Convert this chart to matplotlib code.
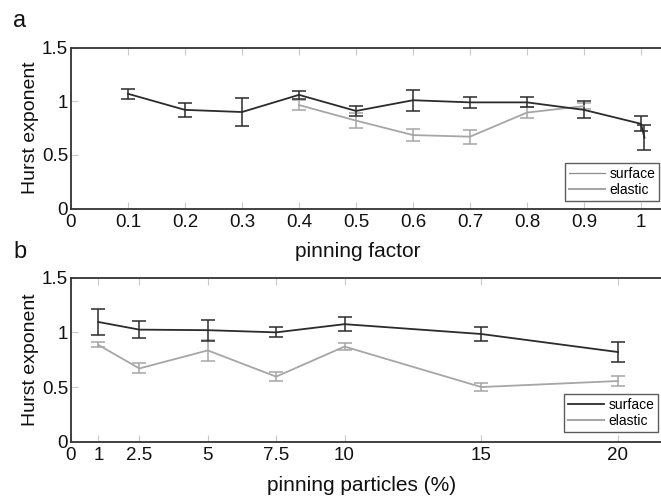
import matplotlib
matplotlib.use("Agg")
import matplotlib.pyplot as plt
from matplotlib.lines import Line2D

plt.rcParams['font.family'] = ['Liberation Sans', 'DejaVu Sans']

# Panel a: Hurst exponent vs pinning factor
pf_surface_x = [0.1, 0.2, 0.3, 0.4, 0.5, 0.6, 0.7, 0.8, 0.9, 1.0, 1.006]
pf_surface_y = [1.07, 0.92, 0.90, 1.06, 0.91, 1.01, 0.99, 0.99, 0.92, 0.79, 0.66]
pf_surface_err = [0.045, 0.065, 0.13, 0.035, 0.047, 0.10, 0.05, 0.047, 0.08, 0.07, 0.115]

pf_elastic_x = [0.4, 0.5, 0.6, 0.7, 0.8, 0.9]
pf_elastic_y = [0.965, 0.82, 0.685, 0.67, 0.895, 0.955]
pf_elastic_err = [0.05, 0.073, 0.058, 0.064, 0.05, 0.03]

pf_ticks = [0, 0.1, 0.2, 0.3, 0.4, 0.5, 0.6, 0.7, 0.8, 0.9, 1]
pf_ticklabels = ['0', '0.1', '0.2', '0.3', '0.4', '0.5', '0.6', '0.7', '0.8', '0.9', '1']

# Panel b: Hurst exponent vs pinning particle fraction
pp_x = [1, 2.5, 5, 7.5, 10, 15, 20]
pp_surface_y = [1.095, 1.025, 1.02, 1.0, 1.075, 0.985, 0.82]
pp_surface_err = [0.115, 0.075, 0.095, 0.045, 0.067, 0.065, 0.09]
pp_elastic_y = [0.885, 0.67, 0.835, 0.595, 0.87, 0.50, 0.555]
pp_elastic_err = [0.023, 0.046, 0.095, 0.042, 0.03, 0.037, 0.042]

pp_ticks = [0, 1, 2.5, 5, 7.5, 10, 15, 20]
pp_ticklabels = ['0', '1', '2.5', '5', '7.5', '10', '15', '20']

y_ticks = [0, 0.5, 1, 1.5]
y_ticklabels = ['0', '0.5', '1', '1.5']

DARK = '#2b2b2b'
LIGHT = '#a6a6a6'
TICK = '#c8c8c8'
TEXT = '#111111'

W, H = 661, 499
fig = plt.figure(figsize=(W / 100, H / 100), dpi=100)

LEFT_PX = 71
RIGHT_PX = 672
AX_W = RIGHT_PX - LEFT_PX


def make_axes(top_px, bottom_px, unit_px):
    ax = fig.add_axes([LEFT_PX / W, 1 - bottom_px / H,
                       AX_W / W, (bottom_px - top_px) / H])
    ax.set_xlim(0, AX_W / unit_px)
    ax.set_ylim(0, 1.5)
    for s in ['left', 'bottom', 'top']:
        ax.spines[s].set_color('#333333')
        ax.spines[s].set_linewidth(1.3)
    ax.spines['right'].set_visible(False)
    ax.tick_params(direction='in', length=5, width=0.8, color=TICK,
                   top=True, bottom=True, left=True, right=False,
                   labelsize=13.5, labelcolor=TEXT)
    ax.tick_params(axis='x', pad=4)
    ax.tick_params(axis='y', pad=2)
    ax.set_yticks(y_ticks)
    ax.set_yticklabels(y_ticklabels)
    ax.set_ylabel('Hurst exponent', fontsize=14, labelpad=2, color=TEXT)
    return ax


def add_legend(ax, handles, left_px, bottom_px, ax_bottom_px, ax_h_px):
    leg = ax.legend(handles, ['surface', 'elastic'], loc='lower left',
                    bbox_to_anchor=((left_px - LEFT_PX) / AX_W,
                                    (ax_bottom_px - bottom_px) / ax_h_px),
                    fontsize=10, frameon=True, fancybox=False,
                    borderpad=0.3, handlelength=2.55, handletextpad=0.35,
                    labelspacing=0.1, borderaxespad=0)
    leg.get_frame().set_edgecolor('#333333')
    leg.get_frame().set_linewidth(1.0)
    return leg


ebkw = dict(capsize=5, elinewidth=1.1, capthick=1.1, linewidth=1.3)

# ---- panel a ----
A_TOP, A_BOT = 47.7, 208.5
ax1 = make_axes(A_TOP, A_BOT, 570.0)
ax1.errorbar(pf_elastic_x, pf_elastic_y, yerr=pf_elastic_err, color=LIGHT, **ebkw)
ax1.errorbar(pf_surface_x, pf_surface_y, yerr=pf_surface_err, color=DARK, **ebkw)
ax1.set_xticks(pf_ticks)
ax1.set_xticklabels(pf_ticklabels)
ax1.set_xlabel('pinning factor', fontsize=15, color=TEXT)
ax1.xaxis.set_label_coords((358 - LEFT_PX) / AX_W, -(242 - A_BOT) / (A_BOT - A_TOP))
handles_a = [Line2D([], [], color='#8c8c8c', lw=0.9),
             Line2D([], [], color=LIGHT, lw=1.5)]
add_legend(ax1, handles_a, 565, 200.7, A_BOT, A_BOT - A_TOP)

# ---- panel b ----
B_TOP, B_BOT = 277.7, 441.7
ax2 = make_axes(B_TOP, B_BOT, 27.35)
ax2.errorbar(pp_x, pp_elastic_y, yerr=pp_elastic_err, color=LIGHT, **ebkw)
ax2.errorbar(pp_x, pp_surface_y, yerr=pp_surface_err, color=DARK, **ebkw)
ax2.set_xticks(pp_ticks)
ax2.set_xticklabels(pp_ticklabels)
ax2.set_xlabel('pinning particles (%)', fontsize=15, color=TEXT)
ax2.xaxis.set_label_coords((362 - LEFT_PX) / AX_W, -(476 - B_BOT) / (B_BOT - B_TOP))
handles_b = [Line2D([], [], color=DARK, lw=1.3),
             Line2D([], [], color=LIGHT, lw=1.5)]
add_legend(ax2, handles_b, 564, 431.7, B_BOT, B_BOT - B_TOP)

# panel letters
fig.text(13 / W, 1 - 27 / H, 'a', fontsize=17, color=TEXT)
fig.text(13 / W, 1 - 258 / H, 'b', fontsize=17, color=TEXT)

fig.savefig('out.png', dpi=100)
